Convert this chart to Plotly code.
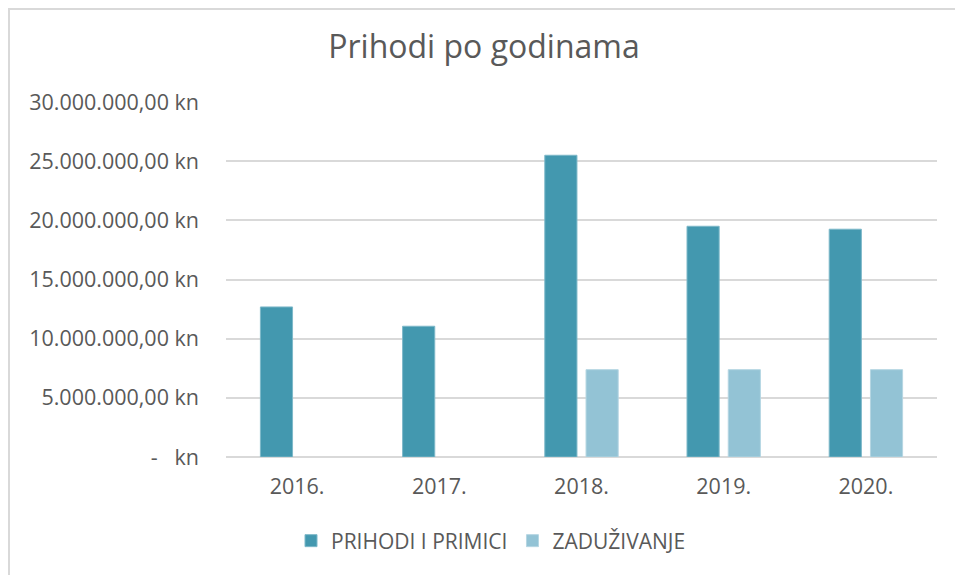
import plotly.graph_objects as go

years = ["2016.", "2017.", "2018.", "2019.", "2020."]
prihodi = [12_680_000, 11_050_000, 25_500_000, 19_500_000, 19_250_000]
zaduzivanje = [None, None, 7_380_000, 7_380_000, 7_380_000]
y_tickvals = [0, 5_000_000, 10_000_000, 15_000_000, 20_000_000, 25_000_000, 30_000_000]
y_ticktext = ["-   kn", "5.000.000,00 kn", "10.000.000,00 kn", "15.000.000,00 kn",
              "20.000.000,00 kn", "25.000.000,00 kn", "30.000.000,00 kn"]

FONT = "Open Sans"
TXT = "#595959"
W, H = 963, 575
OFF = 8  # page offset of the figure in the browser

L, T = 226 - OFF, 102 - OFF
PW, PH = 711, 355

fig = go.Figure()
fig.add_trace(go.Bar(x=years, y=prihodi, name="PRIHODI I PRIMICI",
                     marker=dict(color="#4398AF", line=dict(color="#7DB8C9", width=1))))
fig.add_trace(go.Bar(x=years, y=zaduzivanje, name="ZADUŽIVANJE",
                     marker=dict(color="#93C3D5", line=dict(color="#B5D6E2", width=1))))

fig.update_layout(
    width=W, height=H,
    margin=dict(l=L, r=W - L - PW, t=T, b=H - T - PH),
    paper_bgcolor="white", plot_bgcolor="white",
    barmode="group", bargap=0.42, bargroupgap=0.22,
    font=dict(family=FONT, color=TXT, size=21.5),
    title=dict(text="Prihodi po godinama", x=(484 - OFF) / W, xref="container", xanchor="center",
               y=1 - (47 - OFF) / H, yref="container", yanchor="middle",
               font=dict(family=FONT, size=32, color=TXT)),
    showlegend=True,
    legend=dict(orientation="h", xref="container", x=(491 - OFF) / W, xanchor="center",
                yref="container", y=1 - (541 - OFF) / H, yanchor="middle",
                font=dict(family=FONT, size=21, color=TXT),
                itemwidth=30, traceorder="normal"),
    xaxis=dict(showgrid=False, showline=False, ticks="", automargin=False,
               ticklabelstandoff=14,
               tickfont=dict(family=FONT, size=21.5, color=TXT)),
    yaxis=dict(range=[0, 30_000_000], tickvals=y_tickvals, ticktext=y_ticktext,
               showgrid=True, gridcolor="#D9D9D9", gridwidth=1.5,
               zeroline=True, zerolinecolor="#D9D9D9", zerolinewidth=1.5,
               showline=False, ticks="", automargin=False, ticklabelstandoff=26,
               tickfont=dict(family=FONT, size=21.5, color=TXT)),
    shapes=[dict(type="rect", xref="paper", yref="paper",
                 x0=(1 - L) / PW, x1=(W + 40 - L) / PW,
                 y0=(T + PH - H - 40) / PH, y1=(T + PH - 1) / PH,
                 line=dict(color="#D9D9D9", width=2), fillcolor="rgba(0,0,0,0)", layer="below")],
)

fig.write_html("out.html")
